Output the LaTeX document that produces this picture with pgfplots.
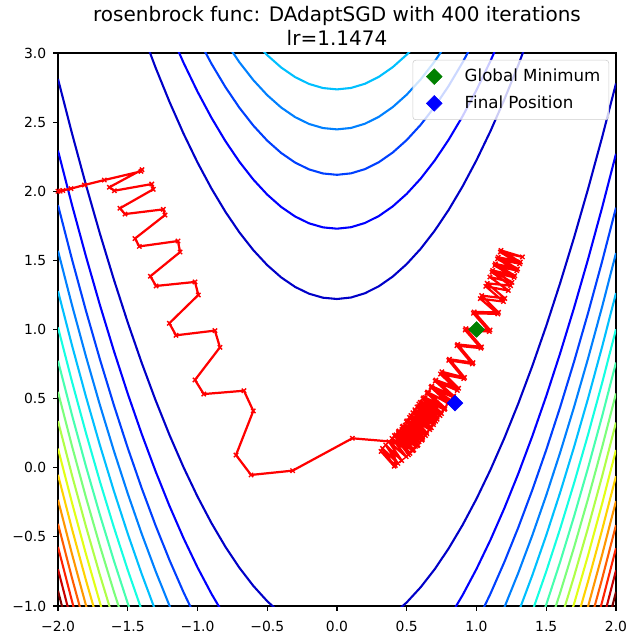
\documentclass[border=0pt]{standalone}
\usepackage{fontspec}
\setmainfont{DejaVu Sans}
\usepackage{pgfplots}
\pgfplotsset{compat=1.18}
\definecolor{cA}{rgb}{0,0,0.784}
\definecolor{cB}{rgb}{0,0,1}
\definecolor{cC}{rgb}{0,0.25,1}
\definecolor{cD}{rgb}{0,0.5,1}
\definecolor{cE}{rgb}{0,0.75,1}
\definecolor{cF}{rgb}{0.081,1,0.887}
\definecolor{cG}{rgb}{0.282,1,0.685}
\definecolor{cH}{rgb}{0.484,1,0.484}
\definecolor{cI}{rgb}{0.685,1,0.282}
\definecolor{cJ}{rgb}{0.887,1,0.081}
\definecolor{cK}{rgb}{1,0.824,0}
\definecolor{cL}{rgb}{1,0.593,0}
\definecolor{cM}{rgb}{1,0.361,0}
\definecolor{cN}{rgb}{1,0.13,0}
\definecolor{cO}{rgb}{0.784,0,0}
\definecolor{cP}{rgb}{0.5,0,0}
\definecolor{mplgreen}{rgb}{0,0.502,0}
\definecolor{legframe}{rgb}{0.8,0.8,0.8}
\pgfplotsset{ctr/.style={line width=1.5pt, forget plot, mark=none, line join=round}}
\begin{document}
\begin{tikzpicture}
\useasboundingbox (-41.76pt,-26.64pt) rectangle (415.44pt,436.32pt);
\begin{axis}[
  at={(0pt,0pt)}, anchor=south west,
  scale only axis, width=401.76pt, height=398.16pt,
  xmin=-2, xmax=2, ymin=-1, ymax=3,
  xtick={-2,-1.5,-1,-0.5,0,0.5,1,1.5,2},
  xticklabels={−2.0,−1.5,−1.0,−0.5,0.0,0.5,1.0,1.5,2.0},
  ytick={-1,-0.5,0,0.5,1,1.5,2,2.5,3},
  yticklabels={−1.0,−0.5,0.0,0.5,1.0,1.5,2.0,2.5,3.0},
  tick align=outside, major tick length=3.5pt,
  xtick pos=left, ytick pos=left,
  every tick/.style={black, line width=0.8pt},
  axis line style={line width=0.8pt},
  tick label style={font=\fontsize{10}{12}\selectfont},
  xticklabel style={yshift=-4pt},
  yticklabel style={xshift=-1.5pt},
  title={rosenbrock func: DAdaptSGD with 400 iterations\\lr=1.1474},
  title style={font=\fontsize{14.4}{17.3}\selectfont, align=center, yshift=-4pt},
  legend style={at={(1,1)}, anchor=north east, xshift=-5pt, yshift=-5pt,
    draw=legframe, rounded corners=2pt, fill=white, fill opacity=0.8, text opacity=1,
    font=\fontsize{12}{14.4}\selectfont, row sep=4.6pt, inner xsep=4pt, inner ysep=4.5pt},
  legend cell align=left,
  legend image code/.code={\path[draw=none,fill=none] (0.05cm,-0.1cm) rectangle (1.15cm,0.1cm); \draw[#1, fill opacity=1, draw opacity=1] plot coordinates {(0.45cm,0cm)};},
]
% ---- level 150
\addplot[ctr, cA] coordinates {(-2.0,2.8120) (-1.9,2.4196) (-1.8,2.0473) (-1.7,1.6951) (-1.6,1.3629) (-1.5,1.0508) (-1.4,0.7588) (-1.3,0.4869) (-1.2,0.2351) (-1.1,0.0033) (-1.0,-0.2084) (-0.9,-0.4000) (-0.8,-0.5715) (-0.7,-0.7229) (-0.6,-0.8542) (-0.5,-0.9655) (-0.4,-1.0567)};
\addplot[ctr, cA] coordinates {(0.4,-1.0632) (0.5,-0.9737) (0.6,-0.8640) (0.7,-0.7343) (0.8,-0.5845) (0.9,-0.4147) (1.0,-0.2247) (1.1,-0.0147) (1.2,0.2155) (1.3,0.4657) (1.4,0.7360) (1.5,1.0263) (1.6,1.3368) (1.7,1.6673) (1.8,2.0179) (1.9,2.3886) (2.0,2.7794)};
\addplot[ctr, cA] coordinates {(-1.4,3.1612) (-1.3,2.8931) (-1.2,2.6449) (-1.1,2.4167) (-1.0,2.2084) (-0.9,2.0200) (-0.8,1.8515) (-0.7,1.7029) (-0.6,1.5742) (-0.5,1.4655) (-0.4,1.3767) (-0.3,1.3078) (-0.2,1.2588) (-0.1,1.2298) (0,1.2206) (0.1,1.2314) (0.2,1.2621) (0.3,1.3127) (0.4,1.3832) (0.5,1.4737) (0.6,1.5840) (0.7,1.7143) (0.8,1.8645) (0.9,2.0347) (1.0,2.2247) (1.1,2.4347) (1.2,2.6645) (1.3,2.9143) (1.4,3.1840)};
% ---- level 300
\addplot[ctr, cB] coordinates {(-2.0,2.2939) (-1.9,1.9022) (-1.8,1.5305) (-1.7,1.1789) (-1.6,0.8474) (-1.5,0.5359) (-1.4,0.2445) (-1.3,-0.0268) (-1.2,-0.2781) (-1.1,-0.5094) (-1.0,-0.7206) (-0.9,-0.9117) (-0.8,-1.0827)};
\addplot[ctr, cB] coordinates {(0.8,-1.0920) (0.9,-0.9221) (1.0,-0.7321) (1.1,-0.5221) (1.2,-0.2920) (1.3,-0.0418) (1.4,0.2284) (1.5,0.5186) (1.6,0.8289) (1.7,1.1593) (1.8,1.5097) (1.9,1.8802) (2.0,2.2708)};
\addplot[ctr, cB] coordinates {(-1.2,3.1581) (-1.1,2.9294) (-1.0,2.7206) (-0.9,2.5317) (-0.8,2.3627) (-0.7,2.2138) (-0.6,2.0847) (-0.5,1.9756) (-0.4,1.8864) (-0.3,1.8172) (-0.2,1.7679) (-0.1,1.7386) (0,1.7292) (0.1,1.7398) (0.2,1.7703) (0.3,1.8207) (0.4,1.8911) (0.5,1.9814) (0.6,2.0916) (0.7,2.2218) (0.8,2.3720) (0.9,2.5421) (1.0,2.7321) (1.1,2.9421) (1.2,3.1720)};
% ---- level 450
\addplot[ctr, cC] coordinates {(-2.0,1.8999) (-1.9,1.5085) (-1.8,1.1372) (-1.7,0.7859) (-1.6,0.4546) (-1.5,0.1434) (-1.4,-0.1477) (-1.3,-0.4188) (-1.2,-0.6699) (-1.1,-0.9009) (-1.0,-1.1119)};
\addplot[ctr, cC] coordinates {(1.0,-1.1213) (1.1,-0.9113) (1.2,-0.6812) (1.3,-0.4311) (1.4,-0.1609) (1.5,0.1293) (1.6,0.4395) (1.7,0.7699) (1.8,1.1202) (1.9,1.4906) (2.0,1.8811)};
\addplot[ctr, cC] coordinates {(-1.0,3.1119) (-0.9,2.9228) (-0.8,2.7537) (-0.7,2.6045) (-0.6,2.4753) (-0.5,2.3660) (-0.4,2.2767) (-0.3,2.2073) (-0.2,2.1579) (-0.1,2.1284) (0,2.1189) (0.1,2.1294) (0.2,2.1598) (0.3,2.2101) (0.4,2.2805) (0.5,2.3707) (0.6,2.4809) (0.7,2.6111) (0.8,2.7612) (0.9,2.9313) (1.0,3.1213)};
% ---- level 600
\addplot[ctr, cD] coordinates {(-2.0,1.5689) (-1.9,1.1777) (-1.8,0.8065) (-1.7,0.4554) (-1.6,0.1243) (-1.5,-0.1867) (-1.4,-0.4777) (-1.3,-0.7487) (-1.2,-0.9996) (-1.1,-1.2305)};
\addplot[ctr, cD] coordinates {(1.1,-1.2395) (1.2,-1.0094) (1.3,-0.7593) (1.4,-0.4892) (1.5,-0.1990) (1.6,0.1112) (1.7,0.4415) (1.8,0.7918) (1.9,1.1622) (2.0,1.5525)};
\addplot[ctr, cD] coordinates {(-0.8,3.0829) (-0.7,2.9336) (-0.6,2.8043) (-0.5,2.6949) (-0.4,2.6055) (-0.3,2.5361) (-0.2,2.4866) (-0.1,2.4570) (0,2.4475) (0.1,2.4578) (0.2,2.4882) (0.3,2.5385) (0.4,2.6088) (0.5,2.6990) (0.6,2.8092) (0.7,2.9393) (0.8,3.0894)};
% ---- level 750
\addplot[ctr, cE] coordinates {(-2.0,1.2778) (-1.9,0.8868) (-1.8,0.5157) (-1.7,0.1647) (-1.6,-0.1663) (-1.5,-0.4772) (-1.4,-0.7681) (-1.3,-1.0389)};
\addplot[ctr, cE] coordinates {(1.3,-1.0484) (1.4,-0.7783) (1.5,-0.4881) (1.6,-0.1779) (1.7,0.1523) (1.8,0.5026) (1.9,0.8729) (2.0,1.2632)};
\addplot[ctr, cE] coordinates {(-0.6,3.0939) (-0.5,2.9845) (-0.4,2.8950) (-0.3,2.8255) (-0.2,2.7760) (-0.1,2.7464) (0,2.7368) (0.1,2.7471) (0.2,2.7774) (0.3,2.8277) (0.4,2.8979) (0.5,2.9881) (0.6,3.0983)};
% ---- level 900
\addplot[ctr, cF] coordinates {(-2.0,1.0150) (-1.9,0.6240) (-1.8,0.2531) (-1.7,-0.0978) (-1.6,-0.4287) (-1.5,-0.7396) (-1.4,-1.0304)};
\addplot[ctr, cF] coordinates {(1.4,-1.0397) (1.5,-0.7496) (1.6,-0.4394) (1.7,-0.1092) (1.8,0.2411) (1.9,0.6114) (2.0,1.0017)};
% ---- level 1050
\addplot[ctr, cG] coordinates {(-2.0,0.7735) (-1.9,0.3826) (-1.8,0.0117) (-1.7,-0.3392) (-1.6,-0.6700) (-1.5,-0.9808) (-1.4,-1.2715)};
\addplot[ctr, cG] coordinates {(1.4,-1.2802) (1.5,-0.9900) (1.6,-0.6798) (1.7,-0.3496) (1.8,0.0006) (1.9,0.3708) (2.0,0.7611)};
% ---- level 1200
\addplot[ctr, cH] coordinates {(-2.0,0.5489) (-1.9,0.1580) (-1.8,-0.2128) (-1.7,-0.5636) (-1.6,-0.8943) (-1.5,-1.2051)};
\addplot[ctr, cH] coordinates {(1.5,-1.2137) (1.6,-0.9036) (1.7,-0.5734) (1.8,-0.2232) (1.9,0.1471) (2.0,0.5373)};
% ---- level 1350
\addplot[ctr, cI] coordinates {(-2.0,0.3380) (-1.9,-0.0528) (-1.8,-0.4235) (-1.7,-0.7743) (-1.6,-1.1050)};
\addplot[ctr, cI] coordinates {(1.6,-1.1137) (1.7,-0.7835) (1.8,-0.4333) (1.9,-0.0631) (2.0,0.3272)};
% ---- level 1500
\addplot[ctr, cJ] coordinates {(-2.0,0.1386) (-1.9,-0.2521) (-1.8,-0.6229) (-1.7,-0.9736) (-1.6,-1.3043)};
\addplot[ctr, cJ] coordinates {(1.6,-1.3125) (1.7,-0.9824) (1.8,-0.6322) (1.9,-0.2620) (2.0,0.1283)};
% ---- level 1650
\addplot[ctr, cK] coordinates {(-2.0,-0.0509) (-1.9,-0.4416) (-1.8,-0.8123) (-1.7,-1.1630)};
\addplot[ctr, cK] coordinates {(1.7,-1.1714) (1.8,-0.8212) (1.9,-0.4510) (2.0,-0.0608)};
% ---- level 1800
\addplot[ctr, cL] coordinates {(-2.0,-0.2320) (-1.9,-0.6227) (-1.8,-0.9934) (-1.7,-1.3440)};
\addplot[ctr, cL] coordinates {(1.7,-1.3520) (1.8,-1.0018) (1.9,-0.6316) (2.0,-0.2414)};
% ---- level 1950
\addplot[ctr, cM] coordinates {(-2.0,-0.4057) (-1.9,-0.7964) (-1.8,-1.1670)};
\addplot[ctr, cM] coordinates {(1.8,-1.1752) (1.9,-0.8050) (2.0,-0.4148)};
% ---- level 2100
\addplot[ctr, cN] coordinates {(-2.0,-0.5728) (-1.9,-0.9634) (-1.8,-1.3340)};
\addplot[ctr, cN] coordinates {(1.8,-1.3419) (1.9,-0.9717) (2.0,-0.5815)};
% ---- level 2250
\addplot[ctr, cO] coordinates {(-2.0,-0.7339) (-1.9,-1.1245)};
\addplot[ctr, cO] coordinates {(1.9,-1.1325) (2.0,-0.7423)};
% ---- level 2400
\addplot[ctr, cP] coordinates {(-2.0,-0.8898) (-1.9,-1.2804)};
\addplot[ctr, cP] coordinates {(1.9,-1.2882) (2.0,-0.8980)};
% ---- optimizer path
\addplot[forget plot, red, line width=1.6pt, line join=round, mark=x, mark size=2.2pt, mark options={solid, line width=1pt}] coordinates {
(-2.000,2.000) (-1.985,2.001) (-1.965,2.006) (-1.907,2.019) (-1.811,2.045) (-1.668,2.081) (-1.405,2.144) (-1.398,2.156)
(-1.632,2.029) (-1.596,2.004) (-1.328,2.052) (-1.317,2.014) (-1.556,1.877) (-1.520,1.835) (-1.245,1.869) (-1.233,1.828)
(-1.448,1.658) (-1.417,1.601) (-1.140,1.640) (-1.125,1.560) (-1.338,1.385) (-1.297,1.315) (-1.018,1.344) (-0.994,1.250)
(-1.202,1.045) (-1.154,0.958) (-0.875,0.992) (-0.839,0.871) (-1.018,0.635) (-0.955,0.533) (-0.667,0.557) (-0.600,0.411)
(-0.724,0.092) (-0.616,-0.052) (-0.318,-0.021) (0.110,0.213) (0.404,0.188)
(0.418,0.016) (0.316,0.118)
(0.410,0.011) (0.326,0.140) (0.437,0.031) (0.349,0.165) (0.464,0.052) (0.372,0.188) (0.496,0.080) (0.395,0.212)
(0.523,0.104) (0.423,0.238) (0.550,0.129) (0.445,0.266) (0.581,0.166) (0.468,0.295) (0.608,0.199) (0.497,0.332)
(0.634,0.233) (0.520,0.364) (0.665,0.276) (0.544,0.398) (0.691,0.312) (0.573,0.440) (0.717,0.351) (0.597,0.473)
(0.749,0.392) (0.621,0.506) (0.774,0.428) (0.650,0.547) (0.800,0.465) (0.674,0.582) (0.831,0.511) (0.704,0.627)
(0.862,0.559) (0.742,0.678) (0.909,0.645) (0.801,0.777) (0.970,0.751) (0.860,0.883) (1.031,0.865) (0.919,0.996)
(1.092,0.985) (0.978,1.117) (1.153,1.113) (1.027,1.223) (1.193,1.202) (1.067,1.312) (1.228,1.282) (1.096,1.380)
(1.254,1.341) (1.116,1.427) (1.274,1.389) (1.136,1.475) (1.294,1.438) (1.156,1.523) (1.314,1.488) (1.176,1.572)
(1.329,1.525)
(1.171,1.560) (1.309,1.475) (1.151,1.511) (1.289,1.426) (1.131,1.463) (1.269,1.377) (1.111,1.415) (1.244,1.317)
(1.077,1.334) (1.203,1.225) (1.037,1.245) (1.158,1.124) (0.983,1.127) (1.097,0.996) (0.924,1.006) (1.036,0.874)
(0.865,0.892) (0.975,0.760) (0.806,0.785) (0.914,0.653) (0.752,0.694) (0.872,0.575) (0.709,0.634) (0.836,0.519)
(0.679,0.590) (0.805,0.472) (0.645,0.540) (0.769,0.421) (0.616,0.499) (0.738,0.378) (0.587,0.461) (0.707,0.337)
(0.559,0.419) (0.676,0.290) (0.530,0.378) (0.644,0.247) (0.501,0.339) (0.613,0.205) (0.473,0.301) (0.576,0.159)
(0.440,0.260) (0.544,0.124) (0.412,0.233) (0.512,0.094)
(0.418,0.227) (0.536,0.128) (0.441,0.249) (0.562,0.155) (0.465,0.277) (0.588,0.188) (0.489,0.308) (0.615,0.221)
(0.513,0.339) (0.641,0.256) (0.536,0.372) (0.667,0.292) (0.561,0.407) (0.693,0.329) (0.585,0.442) (0.718,0.366)
(0.609,0.475) (0.744,0.401) (0.633,0.508) (0.770,0.436) (0.657,0.542) (0.796,0.473) (0.682,0.578) (0.846,0.468)
};
% ---- markers
\addplot[only marks, mark=square*, mark size=4pt, mark options={rotate=45, fill=mplgreen, draw=mplgreen}] coordinates {(1,1)};
\addlegendentry{Global Minimum}
\addplot[only marks, mark=square*, mark size=4pt, mark options={rotate=45, fill=blue, draw=blue}] coordinates {(0.846,0.468)};
\addlegendentry{Final Position}
\end{axis}
\end{tikzpicture}
\end{document}
